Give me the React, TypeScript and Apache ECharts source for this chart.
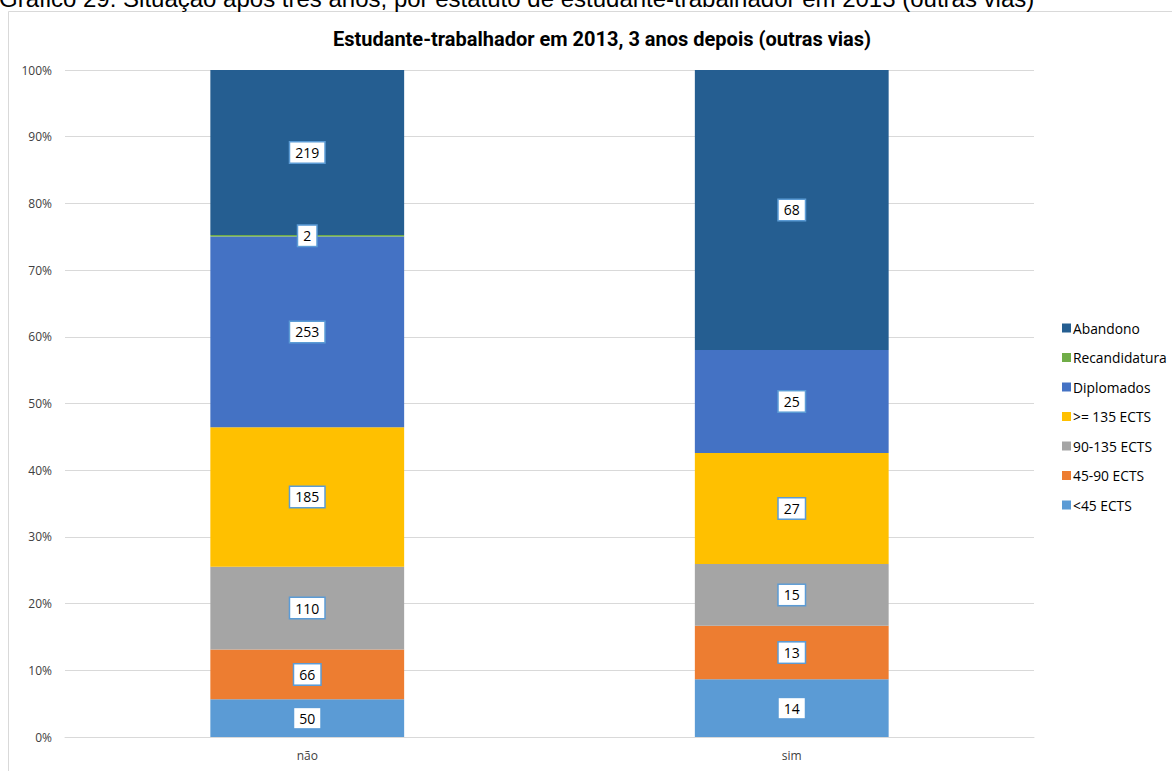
import React, { useEffect, useRef } from "react";
import * as echarts from "echarts";

const categories = ["não", "sim"];
const seriesNames = [
  "<45 ECTS",
  "45-90 ECTS",
  "90-135 ECTS",
  ">= 135 ECTS",
  "Diplomados",
  "Recandidatura",
  "Abandono",
];
const lt45 = [50, 14];
const e45_90 = [66, 13];
const e90_135 = [110, 15];
const ge135 = [185, 27];
const diplomados = [253, 25];
const recandidatura = [2, 0];
const abandono = [219, 68];
const yTicks = [0, 10, 20, 30, 40, 50, 60, 70, 80, 90, 100];

const colors = ["#5B9BD5", "#ED7D31", "#A5A5A5", "#FFC000", "#4472C4", "#70AD47", "#255E91"];

export default function App() {
  const ref = useRef<HTMLDivElement>(null);
  useEffect(() => {
    if (!ref.current) return;
    const chart = echarts.init(ref.current, null, { renderer: "svg" });
    const all = [lt45, e45_90, e90_135, ge135, diplomados, recandidatura, abandono];
    const totals = categories.map((_, i) => all.reduce((s, a) => s + a[i], 0));
    const series = all.map((arr, si) => ({
      name: seriesNames[si],
      type: "bar",
      stack: "total",
      barWidth: "40%",
      itemStyle: { color: colors[si] },
      data: arr.map((v, i) => ({
        value: (v / totals[i]) * 100,
        count: v,
        label: { show: v > 0 },
      })),
      label: {
        show: true,
        position: "inside",
        formatter: (p: any) => String(p.data.count),
        backgroundColor: "#FFFFFF",
        borderColor: "#5B9BD5",
        borderWidth: 1.5,
        padding: [4, 5, 2, 5],
        color: "#000000",
        fontSize: 14,
        fontFamily: "Open Sans",
      },
    }));
    chart.setOption({
      animation: false,
      backgroundColor: "#FFFFFF",
      graphic: [
        {
          type: "rect",
          shape: { x: 8.5, y: 11.5, width: 1300, height: 900 },
          style: { fill: "none", stroke: "#D9D9D9", lineWidth: 1 },
          silent: true,
        },
        {
          type: "text",
          x: -1,
          y: 10,
          style: {
            text: "Gráfico 29: Situação após três anos, por estatuto de estudante-trabalhador em 2013 (outras vias)",
            font: "24px 'Liberation Sans', Arial, sans-serif",
            fill: "#000000",
            textVerticalAlign: "bottom",
            verticalAlign: "bottom",
          },
        },
      ],
      title: {
        text: "Estudante-trabalhador em 2013, 3 anos depois (outras vias)",
        left: 597,
        textAlign: "center",
        top: 24,
        textStyle: { fontFamily: "Roboto", fontWeight: "bold", fontSize: 20, color: "#000000" },
      },
      legend: {
        orient: "vertical",
        left: 1057,
        top: 316,
        itemWidth: 9,
        itemHeight: 9,
        itemGap: 15.5,
        icon: "rect",
        data: [...seriesNames].reverse(),
        textStyle: { fontFamily: "Open Sans", fontSize: 13.8, color: "#000000", padding: [0, 0, 0, -3] },
      },
      grid: { left: 65, right: 138, top: 70, bottom: 34, containLabel: false },
      xAxis: {
        type: "category",
        data: categories,
        axisLine: { show: true, lineStyle: { color: "#D9D9D9", width: 1 } },
        axisTick: { show: false },
        axisLabel: { color: "#404040", fontSize: 12, fontFamily: "Open Sans", margin: 12 },
      },
      yAxis: {
        type: "value",
        min: yTicks[0],
        max: yTicks[yTicks.length - 1],
        interval: 10,
        axisLine: { show: false },
        axisTick: { show: false },
        splitLine: { lineStyle: { color: "#D9D9D9", width: 1 } },
        axisLabel: { formatter: "{value}%", color: "#404040", fontSize: 12, fontFamily: "Open Sans", margin: 13 },
      },
      series,
    });
    return () => chart.dispose();
  }, []);
  return (
    <div
      ref={ref}
      style={{ position: "fixed", left: 0, top: 0, width: 1172, height: 771 }}
    />
  );
}
